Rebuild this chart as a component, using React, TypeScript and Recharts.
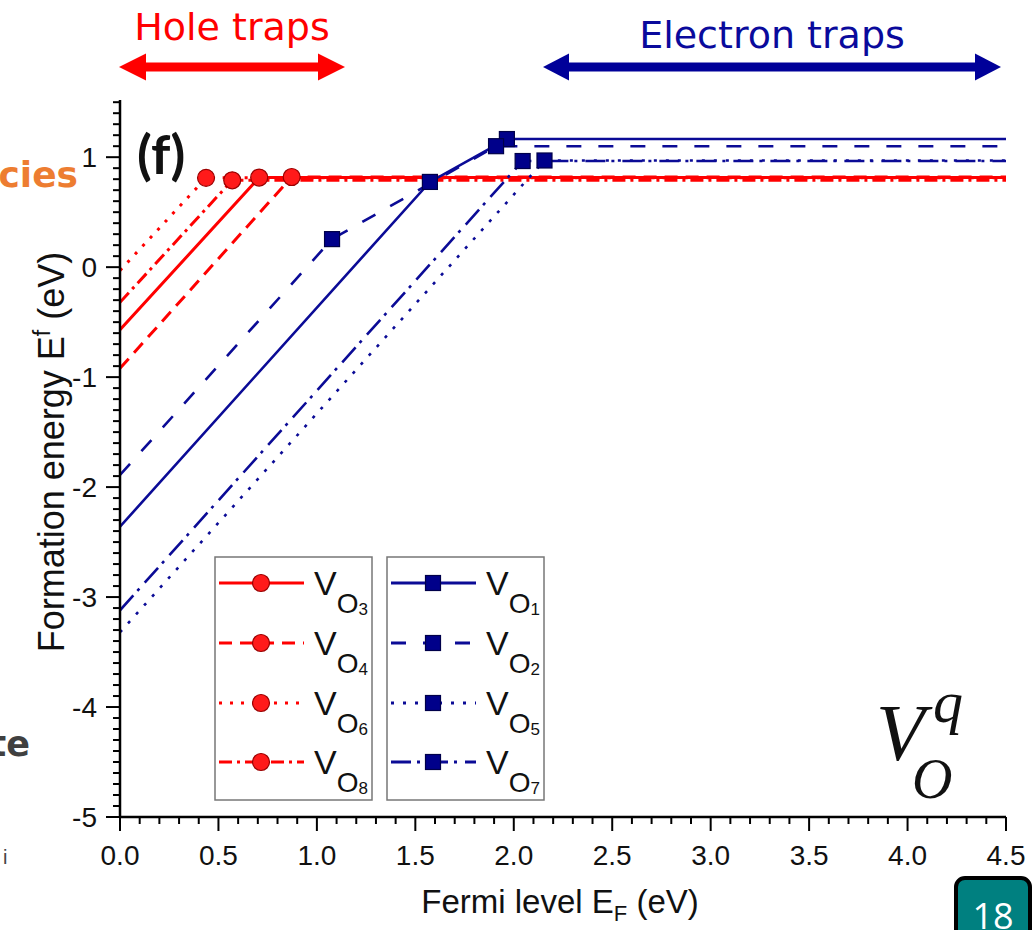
import React from 'react';
import { LineChart, Line, XAxis, YAxis } from 'recharts';

const RED = '#ff0000';
const BLUE = '#0b0b96';

// Tick positions and labels
const xMajorTicks = [0, 0.5, 1, 1.5, 2, 2.5, 3, 3.5, 4, 4.5];
const xTickLabels = ['0.0', '0.5', '1.0', '1.5', '2.0', '2.5', '3.0', '3.5', '4.0', '4.5'];
const yMajorTicks = [-5, -4, -3, -2, -1, 0, 1];
const yTickLabels = ['-5', '-4', '-3', '-2', '-1', '0', '1'];
const xMinorTicks = Array.from({ length: 46 }, (_, i) => i / 10);
const yMinorTicks = Array.from({ length: 66 }, (_, i) => (i - 50) / 10);

// Hole-trap (red, circles)
const vo3 = [{ x: 0, y: -0.57 }, { x: 0.707, y: 0.815, m: 1 }, { x: 4.5, y: 0.815 }];
const vo4 = [{ x: 0, y: -0.92 }, { x: 0.872, y: 0.82, m: 1 }, { x: 4.5, y: 0.82 }];
const vo6 = [{ x: 0, y: -0.03 }, { x: 0.437, y: 0.812, m: 1 }, { x: 4.5, y: 0.812 }];
const vo8 = [{ x: 0, y: -0.32 }, { x: 0.57, y: 0.79, m: 1 }, { x: 4.5, y: 0.79 }];
// Electron-trap (blue, squares)
const vo1 = [{ x: 0, y: -2.36 }, { x: 1.574, y: 0.775, m: 1 }, { x: 1.965, y: 1.165, m: 1 }, { x: 4.5, y: 1.165 }];
const vo2 = [{ x: 0, y: -1.89 }, { x: 1.077, y: 0.255, m: 1 }, { x: 1.91, y: 1.1, m: 1 }, { x: 4.5, y: 1.1 }];
const vo5 = [{ x: 0, y: -3.32 }, { x: 2.156, y: 0.97, m: 1 }, { x: 4.5, y: 0.97 }];
const vo7 = [{ x: 0, y: -3.12 }, { x: 2.045, y: 0.965, m: 1 }, { x: 4.5, y: 0.965 }];

type Series = { id: string; sub: string; data: any[]; color: string; dash?: string; shape: 'circle' | 'square' };

const redSeries: Series[] = [
  { id: 'vo3', sub: '3', data: vo3, color: RED, shape: 'circle' },
  { id: 'vo4', sub: '4', data: vo4, color: RED, dash: '13 8', shape: 'circle' },
  { id: 'vo6', sub: '6', data: vo6, color: RED, dash: '3 8', shape: 'circle' },
  { id: 'vo8', sub: '8', data: vo8, color: RED, dash: '13 5 3 5', shape: 'circle' },
];
const blueSeries: Series[] = [
  { id: 'vo1', sub: '1', data: vo1, color: BLUE, shape: 'square' },
  { id: 'vo2', sub: '2', data: vo2, color: BLUE, dash: '15 17', shape: 'square' },
  { id: 'vo5', sub: '5', data: vo5, color: BLUE, dash: '3 9', shape: 'square' },
  { id: 'vo7', sub: '7', data: vo7, color: BLUE, dash: '20 6 3 8', shape: 'square' },
];

const FONT = '"Liberation Sans", Arial, sans-serif';

const near = (v: number, step: number) => Math.abs(v / step - Math.round(v / step)) < 1e-6;

const BottomTick = (p: any) => {
  const v = p.payload.value;
  const mi = xMajorTicks.findIndex((t) => Math.abs(t - v) < 1e-6);
  const major = mi >= 0;
  return (
    <g>
      <line x1={p.x} x2={p.x} y1={p.y} y2={p.y + (major ? 14 : 7)} stroke="#000" strokeWidth={2} />
      {major && (
        <text x={p.x} y={p.y + 48} textAnchor="middle" fontSize={28} fontFamily={FONT} fill="#111">
          {xTickLabels[mi]}
        </text>
      )}
    </g>
  );
};
const TopTick = (p: any) => {
  const major = near(p.payload.value, 0.5);
  return <line x1={p.x} x2={p.x} y1={p.y} y2={p.y - (major ? 13 : 6)} stroke="#000" strokeWidth={2} />;
};
const LeftTick = (p: any) => {
  const v = p.payload.value;
  const mi = yMajorTicks.findIndex((t) => Math.abs(t - v) < 1e-6);
  const major = mi >= 0;
  return (
    <g>
      <line x1={p.x} x2={p.x - (major ? 14 : 7)} y1={p.y} y2={p.y} stroke="#000" strokeWidth={2} />
      {major && (
        <text x={p.x - 23} y={p.y + 10} textAnchor="end" fontSize={28} fontFamily={FONT} fill="#111">
          {yTickLabels[mi]}
        </text>
      )}
    </g>
  );
};
const RightTick = (p: any) => {
  const major = near(p.payload.value, 1);
  return <line x1={p.x} x2={p.x + (major ? 13 : 6)} y1={p.y} y2={p.y} stroke="#000" strokeWidth={2} />;
};

const marker = (shape: 'circle' | 'square', cx: number, cy: number, key?: string) =>
  shape === 'circle' ? (
    <circle key={key} cx={cx} cy={cy} r={8.5} fill="#ff1a1a" stroke="#9a0000" strokeWidth={1.2} />
  ) : (
    <rect key={key} x={cx - 7.5} y={cy - 7.5} width={15} height={15} fill="#00008a" stroke="#00004a" strokeWidth={1.2} />
  );

const makeDot = (shape: 'circle' | 'square') => (p: any) =>
  p.payload && p.payload.m ? marker(shape, p.cx, p.cy, `d${p.index}`) : <g key={`d${p.index}`} />;

const LegendBox = ({ x, series }: { x: number; series: Series[] }) => {
  const rows = [583, 643, 703, 762];
  return (
    <g>
      <rect x={x} y={557} width={157} height={243} fill="#fff" stroke="#777" strokeWidth={1.5} />
      {series.map((s, i) => (
        <g key={s.id}>
          <line x1={x + 4} x2={x + 89} y1={rows[i]} y2={rows[i]} stroke={s.color} strokeWidth={3} strokeDasharray={s.dash} />
          {marker(s.shape, x + 46, rows[i])}
          <text x={x + 99} y={rows[i] + 12} fontSize={34} fontFamily={FONT} fill="#111">
            V
            <tspan fontSize={28} dy={18}>O</tspan>
            <tspan fontSize={17} dy={2}>{s.sub}</tspan>
          </text>
        </g>
      ))}
    </g>
  );
};

export default function App() {
  return (
    <div style={{ position: 'absolute', left: 0, top: 0, width: 1034, height: 930, background: '#fff', overflow: 'hidden' }}>
      <LineChart width={1034} height={930} margin={{ top: 100, right: 28, bottom: 53, left: 60 }}>
        <XAxis
          xAxisId="b"
          type="number"
          dataKey="x"
          domain={[0, 4.5]}
          allowDataOverflow
          ticks={xMinorTicks}
          interval={0}
          height={60}
          tickSize={0}
          tickMargin={0}
          tickLine={false}
          tick={BottomTick}
          axisLine={{ stroke: '#000', strokeWidth: 2.5 }}
        />
        <XAxis
          xAxisId="t"
          orientation="top"
          type="number"
          dataKey="x"
          domain={[0, 4.5]}
          allowDataOverflow
          ticks={xMinorTicks}
          interval={0}
          height={0}
          tickSize={0}
          tickMargin={0}
          tickLine={false}
          tick={TopTick}
          axisLine={{ stroke: '#000', strokeWidth: 2.5 }}
        />
        <YAxis
          yAxisId="l"
          type="number"
          domain={[-5, 1.52]}
          allowDataOverflow
          ticks={yMinorTicks}
          interval={0}
          width={60}
          tickSize={0}
          tickMargin={0}
          tickLine={false}
          tick={LeftTick}
          axisLine={{ stroke: '#000', strokeWidth: 2.5 }}
        />
        <YAxis
          yAxisId="r"
          orientation="right"
          type="number"
          domain={[-5, 1.52]}
          allowDataOverflow
          ticks={yMinorTicks}
          interval={0}
          width={0}
          tickSize={0}
          tickMargin={0}
          tickLine={false}
          tick={RightTick}
          axisLine={{ stroke: '#000', strokeWidth: 2.5 }}
        />
        {[...redSeries, ...blueSeries].map((s) => (
          <Line
            key={s.id}
            xAxisId="b"
            yAxisId="l"
            data={s.data}
            dataKey="y"
            type="linear"
            stroke={s.color}
            strokeWidth={s.color === RED ? 3 : 2.6}
            strokeDasharray={s.dash}
            dot={makeDot(s.shape)}
            activeDot={false}
            isAnimationActive={false}
          />
        ))}
      </LineChart>
      <svg width={1034} height={930} style={{ position: 'absolute', left: 0, top: 0, pointerEvents: 'none' }}>
        {/* Hole traps */}
        <text x={232} y={40} textAnchor="middle" fontSize={38} fontFamily='"DejaVu Sans", sans-serif' fill={RED}>Hole traps</text>
        <rect x={140} y={62.5} width={185} height={9} fill={RED} />
        <polygon points="119,67 146,53.5 146,80.5" fill={RED} />
        <polygon points="345,67 318,53.5 318,80.5" fill={RED} />
        {/* Electron traps */}
        <text x={772} y={48} textAnchor="middle" fontSize={38} fontFamily='"DejaVu Sans", sans-serif' fill="#0a0a9c">Electron traps</text>
        <rect x={565} y={62.5} width={415} height={9} fill="#000099" />
        <polygon points="543,67 569,53.5 569,80.5" fill="#000099" />
        <polygon points="1001,67 975,53.5 975,80.5" fill="#000099" />
        {/* side fragments */}
        <text x={78} y={187} textAnchor="end" fontSize={36} fontWeight="bold" fontFamily='"DejaVu Sans", sans-serif' fill="#ED7D31">cies</text>
        <text x={30} y={756} textAnchor="end" fontSize={35} fontWeight="bold" fontFamily='"DejaVu Sans", sans-serif' fill="#404040">te</text>
        <text x={3} y={864} fontSize={20} fontFamily={FONT} fill="#444">i</text>
        {/* panel label */}
        <text x={137} y={174} fontSize={54} fontWeight="bold" fontFamily='Lato, "Open Sans", sans-serif' fill="#111">(f)</text>
        {/* legends */}
        <LegendBox x={215} series={redSeries} />
        <LegendBox x={387} series={blueSeries} />
        {/* V_O^q */}
        <text x={876} y={760} fontSize={80} fontStyle="italic" fontFamily='"Liberation Serif", serif' fill="#111">V</text>
        <text x={912} y={798} fontSize={56} fontStyle="italic" fontFamily='"Liberation Serif", serif' fill="#111">O</text>
        <text x={933} y={722} fontSize={60} fontStyle="italic" fontFamily='"Liberation Serif", serif' fill="#111">q</text>
        {/* axis titles */}
        <text transform="translate(64,452) rotate(-90)" textAnchor="middle" fontSize={36} fontFamily={FONT} fill="#111">
          Formation energy E<tspan fontSize={23} dy={-14}>f</tspan>
          <tspan dy={14}> (eV)</tspan>
        </text>
        <text x={560} y={913} textAnchor="middle" fontSize={33} fontFamily={FONT} fill="#111">
          Fermi level E<tspan fontSize={22} dy={8}>F</tspan>
          <tspan dy={-8}> (eV)</tspan>
        </text>
        {/* slide number */}
        <rect x={956} y={878} width={74} height={70} rx={9} fill="#008080" stroke="#000" strokeWidth={4} />
        <text x={993} y={929} textAnchor="middle" fontSize={36} fontFamily='"Open Sans", sans-serif' fill="#fff">18</text>
      </svg>
    </div>
  );
}
